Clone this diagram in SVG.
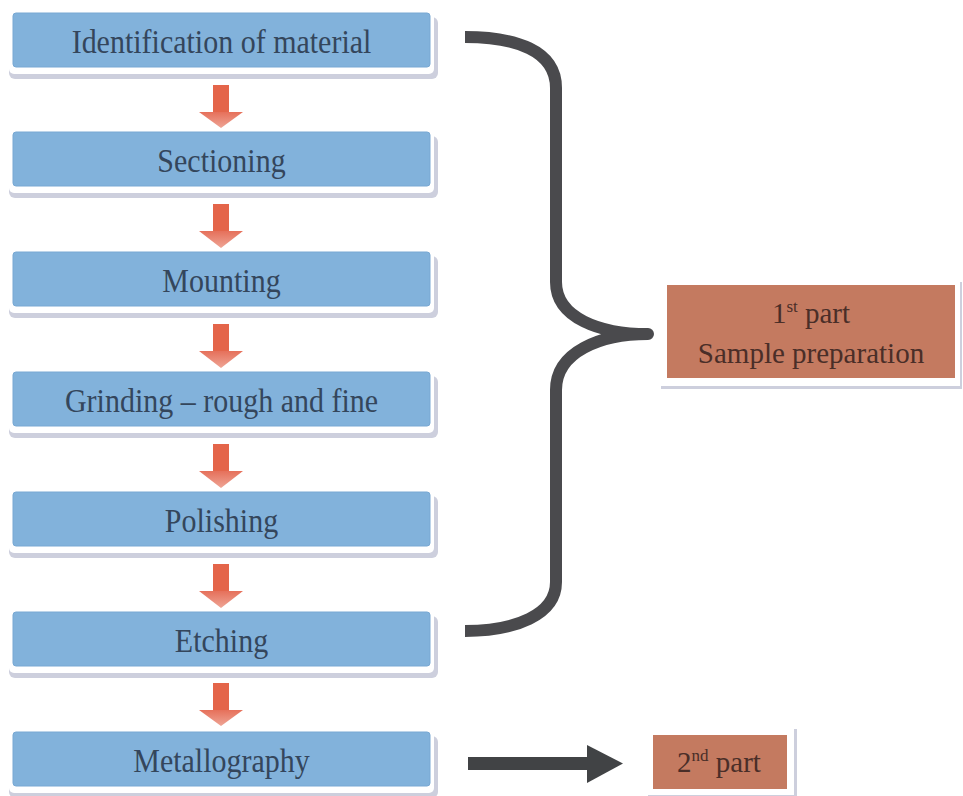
<svg xmlns="http://www.w3.org/2000/svg" width="963" height="796" viewBox="0 0 963 796">
<defs>
<style>
.sh{fill:#cdcfdd}
.bd{fill:#ffffff}
.bx{fill:#82b2db;stroke:#78a8d3;stroke-width:1}
.lbl{font-family:'Liberation Serif','Times New Roman','DejaVu Serif',serif;font-size:30px;fill:#34465c;text-anchor:middle}
.rb{fill:#c47a60}
.rlbl{font-family:'Liberation Serif','Times New Roman','DejaVu Serif',serif;font-size:29px;fill:#4a2e28;text-anchor:middle}
.shaft{fill:#e4654a}
.head{fill:url(#hg)}
.brace{fill:none;stroke:#4a4a4d;stroke-width:12;stroke-linejoin:round;stroke-linecap:butt}
.dark{fill:#414345}
</style>
<linearGradient id="hg" x1="0" y1="0" x2="0" y2="1">
<stop offset="0" stop-color="#e6705a"/>
<stop offset="1" stop-color="#eea596"/>
</linearGradient>
</defs>
<rect width="963" height="796" fill="#ffffff"/>

<g id="n1">
<rect class="sh" x="9" y="17" width="429" height="62" rx="6"/>
<rect class="bd" x="9" y="10" width="425" height="64" rx="5"/>
<rect class="bx" x="13" y="13" width="417" height="54" rx="3"/>
<text class="lbl" font-family="Liberation Serif, serif" transform="translate(221.5,53) scale(1,1.15)">Identification of material</text>
</g>
<g id="n2">
<rect class="sh" x="9" y="136" width="429" height="62" rx="6"/>
<rect class="bd" x="9" y="129" width="425" height="64" rx="5"/>
<rect class="bx" x="13" y="132" width="417" height="54" rx="3"/>
<text class="lbl" font-family="Liberation Serif, serif" transform="translate(221.5,172) scale(1,1.15)">Sectioning</text>
</g>
<g id="n3">
<rect class="sh" x="9" y="256" width="429" height="62" rx="6"/>
<rect class="bd" x="9" y="249" width="425" height="64" rx="5"/>
<rect class="bx" x="13" y="252" width="417" height="54" rx="3"/>
<text class="lbl" font-family="Liberation Serif, serif" transform="translate(221.5,292) scale(1,1.15)">Mounting</text>
</g>
<g id="n4">
<rect class="sh" x="9" y="376" width="429" height="62" rx="6"/>
<rect class="bd" x="9" y="369" width="425" height="64" rx="5"/>
<rect class="bx" x="13" y="372" width="417" height="54" rx="3"/>
<text class="lbl" font-family="Liberation Serif, serif" transform="translate(221.5,412) scale(1,1.15)">Grinding – rough and fine</text>
</g>
<g id="n5">
<rect class="sh" x="9" y="496" width="429" height="62" rx="6"/>
<rect class="bd" x="9" y="489" width="425" height="64" rx="5"/>
<rect class="bx" x="13" y="492" width="417" height="54" rx="3"/>
<text class="lbl" font-family="Liberation Serif, serif" transform="translate(221.5,532) scale(1,1.15)">Polishing</text>
</g>
<g id="n6">
<rect class="sh" x="9" y="616" width="429" height="62" rx="6"/>
<rect class="bd" x="9" y="609" width="425" height="64" rx="5"/>
<rect class="bx" x="13" y="612" width="417" height="54" rx="3"/>
<text class="lbl" font-family="Liberation Serif, serif" transform="translate(221.5,652) scale(1,1.15)">Etching</text>
</g>
<g id="n7">
<rect class="sh" x="9" y="736" width="429" height="62" rx="6"/>
<rect class="bd" x="9" y="729" width="425" height="64" rx="5"/>
<rect class="bx" x="13" y="732" width="417" height="54" rx="3"/>
<text class="lbl" font-family="Liberation Serif, serif" transform="translate(221.5,772) scale(1,1.15)">Metallography</text>
</g>

<g id="part1">
<rect class="sh" x="661" y="282" width="301" height="107"/>
<rect class="bd" x="661" y="281" width="299" height="105"/>
<rect class="rb" x="667" y="285" width="288" height="93"/>
<text class="rlbl" font-family="Liberation Serif, serif" x="811" y="323">1<tspan font-size="17" dy="-11">st</tspan><tspan dy="11"> part</tspan></text>
<text class="rlbl" font-family="Liberation Serif, serif" x="811" y="363">Sample preparation</text>
</g>

<g id="part2">
<rect class="sh" x="648" y="729" width="149" height="71"/>
<rect class="bd" x="648" y="729" width="146" height="66"/>
<rect class="rb" x="653" y="735" width="134" height="54"/>
<text class="rlbl" font-family="Liberation Serif, serif" x="719" y="772">2<tspan font-size="17" dy="-11">nd</tspan><tspan dy="11"> part</tspan></text>
</g>

<g id="connectors">
<g id="a1"><rect class="shaft" x="213" y="85" width="16" height="28"/><polygon class="head" points="199,112 243,112 221,128"/></g>
<g id="a2"><rect class="shaft" x="213" y="204" width="16" height="28"/><polygon class="head" points="199,231 243,231 221,248"/></g>
<g id="a3"><rect class="shaft" x="213" y="324" width="16" height="28"/><polygon class="head" points="199,351 243,351 221,368"/></g>
<g id="a4"><rect class="shaft" x="213" y="444" width="16" height="28"/><polygon class="head" points="199,471 243,471 221,488"/></g>
<g id="a5"><rect class="shaft" x="213" y="564" width="16" height="28"/><polygon class="head" points="199,591 243,591 221,608"/></g>
<g id="a6"><rect class="shaft" x="213" y="683" width="16" height="28"/><polygon class="head" points="199,710 243,710 221,726"/></g>
<path id="brace" class="brace" d="M465,37 C515,37 556,50 556,88 L556,282 C556,318 600,334 648,334 C600,334 556,352 556,390 L556,582 C556,615 515,631 465,631"/>
<g id="a7"><rect class="dark" x="468" y="757" width="120" height="13"/><polygon class="dark" points="587,745 623,763.5 587,783"/></g>
</g>
</svg>
